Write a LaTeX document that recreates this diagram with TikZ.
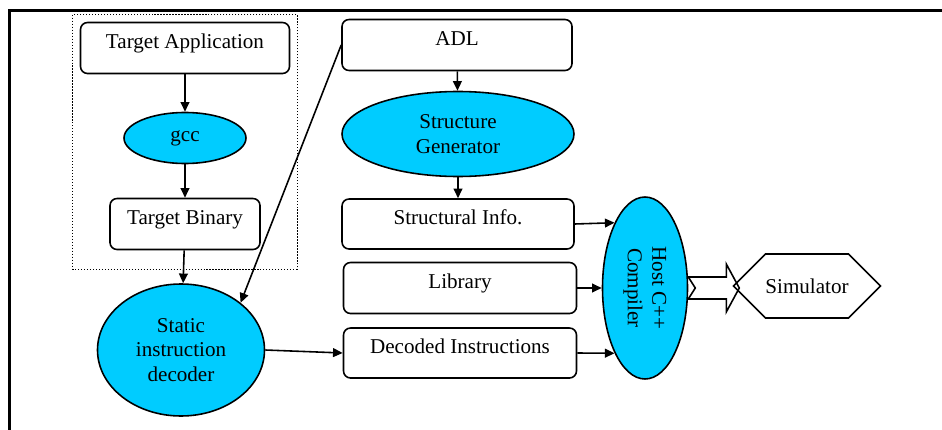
\documentclass[tikz,border=0pt]{standalone}
\usepackage{fontspec}
\setmainfont{Liberation Serif}
\usepackage{graphicx}
\usetikzlibrary{calc}
\usetikzlibrary{shapes, shapes.symbols}
\usetikzlibrary{arrows.meta}
\usetikzlibrary{positioning}
\definecolor{skyfill}{RGB}{0,204,255}
\tikzset{
    block/.style={
           rectangle,
           rounded corners=4pt,
           draw=black, line width=0.9pt,
           inner sep=0pt,
           text height=0.51cm,
           text depth=0.51cm,
           text centered,
           },
    tool/.style={
           ellipse,
           draw=black, line width=0.9pt,
           fill=skyfill,
           inner sep=0pt,
           align=center,
           },
    outcome/.style={
           signal, signal to=west and east,
           draw=black, line width=0.9pt,
           inner xsep=0pt,
           minimum height=1.28cm,
           },
}

\begin{document}
\begin{tikzpicture}[>={Triangle[length=5.5pt,width=5pt]}, line width=0.9pt,
                    font=\fontsize{12pt}{14pt}\selectfont]
      \useasboundingbox (0,0) rectangle (18.84,-8.6);
      % frame
      \draw[line width=1.3pt] (0.19,-9) -- (0.19,-0.21) -- (19.2,-0.21);

      % target side
      \node[block, minimum width=4.18cm] (tapp) at (3.70,-0.96) {Target Application};
      \node[tool, minimum width=2.44cm, minimum height=1.02cm] (gcc) at (3.70,-2.76) {gcc};
      \node[block, minimum width=3.0cm] (tbin) at (3.70,-4.48) {Target Binary};
      \draw[densely dotted, line width=0.7pt]
           ($(tapp.north west)+(-0.14,0.14)$) rectangle ($(tapp.east |- tbin.south)+(0.14,-0.38)$);
      \node[tool, minimum width=3.34cm, minimum height=2.64cm] (dec) at (3.62,-7.00)
           {Static\\instruction\\decoder};

      % architecture side
      \node[block, minimum width=4.6cm] (adl) at (9.14,-0.90) {ADL};
      \node[tool, minimum width=4.64cm, minimum height=1.70cm] (sgen) at (9.16,-2.68)
           {Structure\\Generator};
      \node[block, minimum width=4.64cm, text height=0.5cm, text depth=0.5cm] (sinfo) at (9.16,-4.48) {Structural Info.};
      \node[block, minimum width=4.66cm] (lib) at (9.20,-5.76) {Library};
      \node[block, minimum width=4.66cm, text height=0.5cm, text depth=0.5cm] (dinst) at (9.20,-7.06) {Decoded Instructions};

      \node[tool, minimum width=1.70cm, minimum height=3.64cm] (host) at (12.90,-5.76)
           {\rotatebox{-90}{\begin{tabular}{@{}c@{}}Host C++\\Compiler\end{tabular}}};
      \node[outcome] (sim) at (16.14,-5.72) {Simulator};

      % block arrow
      \coordinate (ha) at (host.east);
      \draw (ha) ++(0,0.22) -- ++(0.76,0) -- ++(0,0.26) -- ++(0.26,-0.48)
            -- ++(-0.26,-0.48) -- ++(0,0.26) -- ++(-0.76,0) -- ++(0.14,0.22) -- cycle;

      \path[->]
      (tapp) edge (gcc)
      (gcc) edge (tbin)
      (tbin) edge (dec)
      (adl.west) edge (dec.north east)
      (adl) edge (sgen)
      (sgen) edge (sinfo)
      (dec.east) edge (dinst.west)
      (sinfo.east) edge (host.115)
      (lib.east) edge (host.west)
      (dinst.east) edge (host.245);
\end{tikzpicture}
\end{document}
